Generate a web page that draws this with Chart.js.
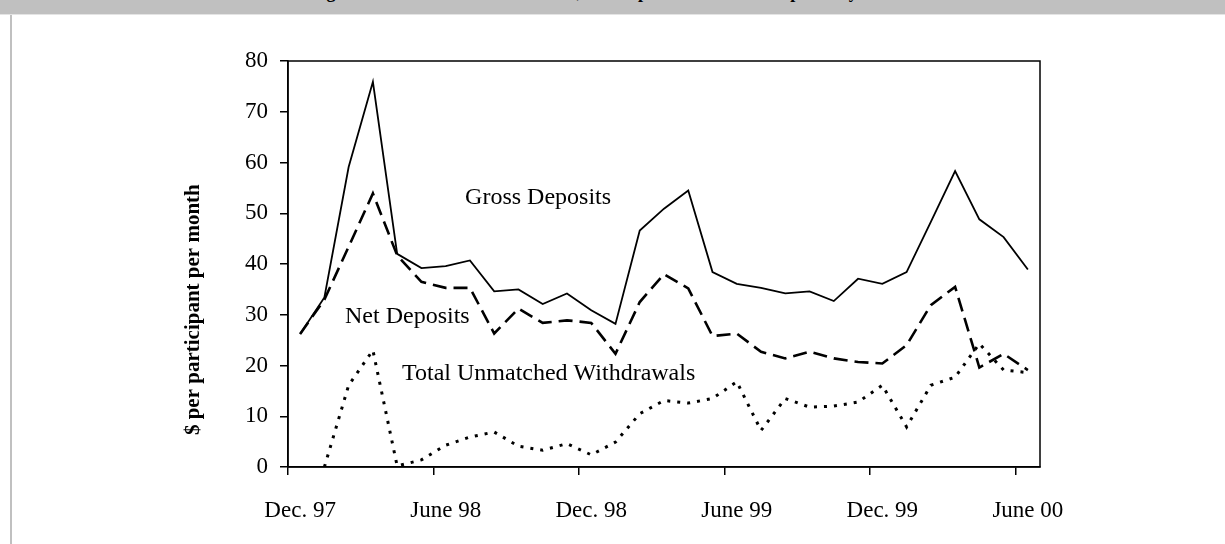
<!DOCTYPE html>
<html>
<head>
<meta charset="utf-8">
<script src="https://cdn.jsdelivr.net/npm/chart.js@4.4.1/dist/chart.umd.min.js"></script>
<style>
  html, body { margin: 0; padding: 0; background: #ffffff; }
  #wrap { position: relative; width: 1225px; height: 544px; overflow: hidden; background: #ffffff; }
  #c { position: absolute; left: 0; top: 0; }
  #bar { position: absolute; left: 0; top: 0; width: 1225px; height: 14px; background: #c0c0c0;
         overflow: hidden; border-bottom: 1px solid #e4e4e4; }
  #bar span { position: absolute; left: 0; width: 1225px; top: -17px; text-align: center;
              font: bold 18px "Liberation Serif", "Times New Roman", serif; line-height: 18px; color: #000; white-space: nowrap; }
  #lborder { position: absolute; left: 10px; top: 15px; width: 2px; height: 529px; background: #c0c0c0; }
</style>
</head>
<body>
<div id="wrap">
  <canvas id="c" width="1225" height="544"></canvas>
  <div id="bar"><span>Figure 4. Unmatched Withdrawals, Net Deposits and Gross Deposits by Month</span></div>
  <div id="lborder"></div>
</div>
<script>
// ---- data (Dec. 97 .. June 00, monthly) ----
const months = ['Dec 97','Jan 98','Feb 98','Mar 98','Apr 98','May 98','Jun 98','Jul 98','Aug 98','Sep 98','Oct 98','Nov 98',
                'Dec 98','Jan 99','Feb 99','Mar 99','Apr 99','May 99','Jun 99','Jul 99','Aug 99','Sep 99','Oct 99','Nov 99',
                'Dec 99','Jan 00','Feb 00','Mar 00','Apr 00','May 00','Jun 00'];
const grossDeposits = [26.2, 33.4, 59.1, 75.9, 42.0, 39.2, 39.6, 40.7, 34.6, 35.0, 32.1, 34.2, 30.9, 28.2, 46.6, 50.9,
                       54.5, 38.4, 36.1, 35.3, 34.2, 34.6, 32.7, 37.1, 36.1, 38.4, 48.3, 58.3, 48.8, 45.3, 38.9];
const netDeposits = [26.2, 33.0, 43.4, 53.9, 41.7, 36.5, 35.3, 35.3, 26.3, 31.2, 28.4, 28.9, 28.4, 22.3, 32.5, 38.0,
                     35.2, 25.8, 26.3, 22.7, 21.4, 22.7, 21.4, 20.7, 20.4, 24.0, 31.9, 35.5, 19.6, 22.3, 19.1];
const unmatchedWithdrawals = [null, 0, 16.1, 23.0, 0.2, 1.4, 4.3, 5.9, 6.9, 4.1, 3.3, 4.6, 2.4, 4.9, 10.5, 13.1,
                              12.6, 13.5, 16.8, 7.2, 13.5, 11.8, 12.0, 12.8, 16.1, 7.9, 16.1, 17.7, 24.3, 19.1, 18.6];
const xTickLabels = ['Dec. 97', 'June 98', 'Dec. 98', 'June 99', 'Dec. 99', 'June 00'];
const tickEvery = 6;
const yTitle = '$ per participant per month';
// annotation labels: [text, x (month index), y (value)]
const seriesLabels = [
  ['Gross Deposits', 6.8, 51.8],
  ['Net Deposits', 1.85, 28.3],
  ['Total Unmatched Withdrawals', 4.2, 17.1]
];

const SERIF = '"Liberation Serif", "Times New Roman", serif';

const decorPlugin = {
  id: 'decor',
  afterDatasetsDraw(chart) {
    const ctx = chart.ctx;
    const a = chart.chartArea;
    const xs = chart.scales.x, ys = chart.scales.y;
    ctx.save();
    // plot box
    ctx.strokeStyle = '#000';
    ctx.lineWidth = 1.5;
    ctx.strokeRect(a.left, a.top, a.right - a.left, a.bottom - a.top);
    // series labels
    ctx.fillStyle = '#000';
    ctx.font = '24px ' + SERIF;
    ctx.textAlign = 'left';
    ctx.textBaseline = 'alphabetic';
    seriesLabels.forEach(([t, xv, yv]) => {
      ctx.fillText(t, xs.getPixelForValue(xv), ys.getPixelForValue(yv));
    });
    // y axis title
    ctx.translate(194, ys.getPixelForValue(31));
    ctx.rotate(-Math.PI / 2);
    ctx.font = 'bold 21px ' + SERIF;
    ctx.textAlign = 'center';
    ctx.textBaseline = 'middle';
    ctx.fillText(yTitle, 0, 0);
    ctx.restore();
  }
};

new Chart(document.getElementById('c'), {
  type: 'line',
  data: {
    labels: months,
    datasets: [
      { label: 'Gross Deposits', data: grossDeposits, borderColor: '#000', borderWidth: 1.8,
        pointRadius: 0, fill: false, tension: 0 },
      { label: 'Net Deposits', data: netDeposits, borderColor: '#000', borderWidth: 2.6,
        borderDash: [14, 7], pointRadius: 0, fill: false, tension: 0 },
      { label: 'Total Unmatched Withdrawals', data: unmatchedWithdrawals, borderColor: '#000', borderWidth: 3,
        borderDash: [3, 7], pointRadius: 0, fill: false, tension: 0 }
    ]
  },
  options: {
    responsive: false,
    animation: false,
    events: [],
    layout: { padding: { left: 0, top: 61, right: 185, bottom: 0 } },
    plugins: { legend: { display: false }, tooltip: { enabled: false }, title: { display: false } },
    scales: {
      x: {
        type: 'category',
        offset: true,
        grid: {
          offset: true,
          drawOnChartArea: false,
          tickLength: 8,
          lineWidth: 1.5,
          color: (c) => (c.index !== undefined && c.index % tickEvery === 0) ? '#000' : 'rgba(0,0,0,0)'
        },
        border: { display: true, color: '#000', width: 1.5 },
        ticks: {
          autoSkip: false,
          maxRotation: 0,
          minRotation: 0,
          padding: 22,
          color: '#000',
          font: { family: SERIF, size: 23 },
          callback: (v, i) => (i % tickEvery === 0) ? xTickLabels[i / tickEvery] : ''
        },
        afterFit: (s) => { s.height = 77; }
      },
      y: {
        min: 0, max: 80,
        grid: { drawOnChartArea: false, tickLength: 8, color: '#000', lineWidth: 1.5 },
        border: { display: true, color: '#000', width: 1.5 },
        ticks: { stepSize: 10, padding: 12, color: '#000', font: { family: SERIF, size: 23 } },
        afterFit: (s) => { s.width = 288; }
      }
    }
  },
  plugins: [decorPlugin]
});
</script>
</body>
</html>
